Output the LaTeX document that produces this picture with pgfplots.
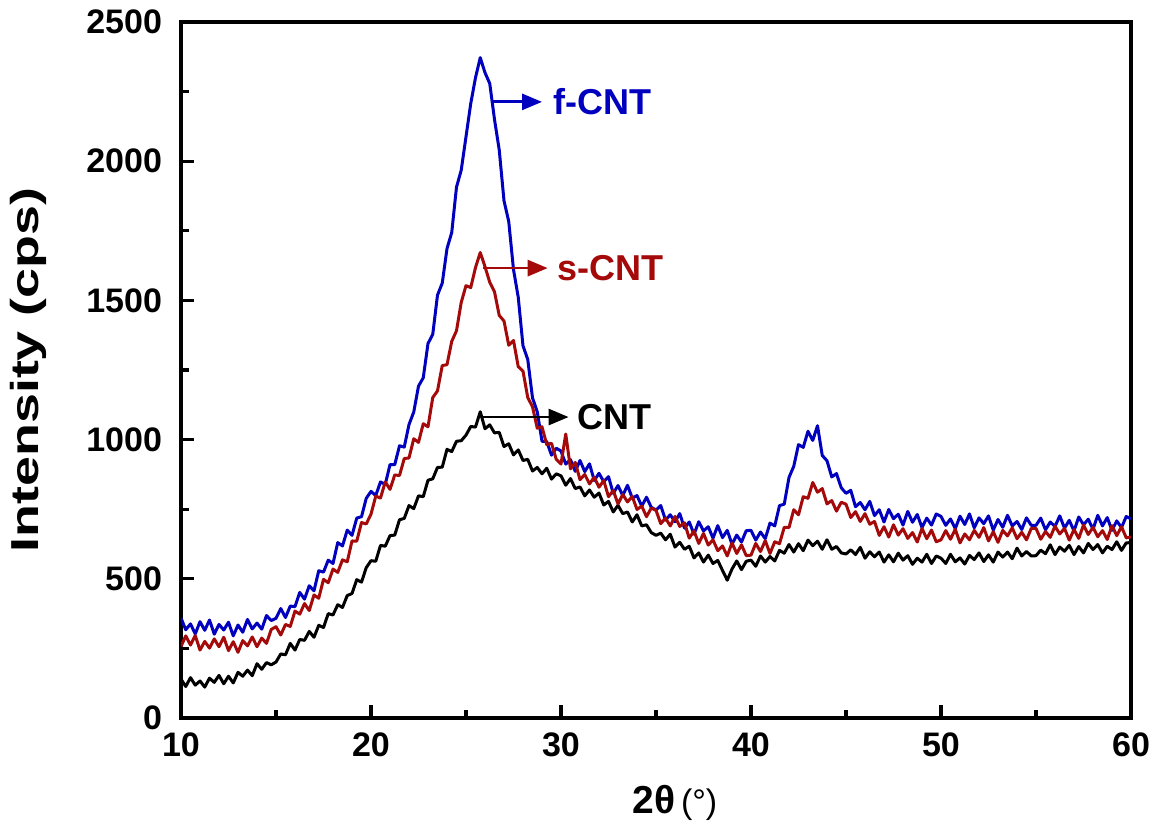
\documentclass[border=0pt]{standalone}
\usepackage{fontspec}
\setmainfont{Liberation Sans}
\usepackage{graphicx}
\usepackage{pgfplots}
\usepackage{pgfplotstable}
\pgfplotsset{compat=1.18}
\usetikzlibrary{arrows.meta}
\definecolor{cntblue}{RGB}{0,0,190}
\definecolor{cntred}{RGB}{165,10,10}

\pgfplotstableread{
x K R B
10.00 140 257 359
10.25 113 295 317
10.50 145 262 338
10.75 118 296 302
11.00 133 244 346
11.25 111 275 315
11.50 143 251 352
11.75 128 284 301
12.00 153 256 336
12.25 123 290 316
12.50 150 242 344
12.75 126 274 295
13.00 164 236 334
13.25 150 278 308
13.50 172 259 354
13.75 152 291 320
14.00 195 256 341
14.25 175 287 319
14.50 199 268 368
14.75 191 318 350
15.00 201 328 358
15.25 230 298 393
15.50 227 336 361
15.75 268 329 402
16.00 244 384 400
16.25 282 373 451
16.50 279 411 427
16.75 311 386 475
17.00 290 442 457
17.25 333 430 529
17.50 325 498 524
17.75 375 486 567
18.00 370 535 555
18.25 407 523 630
18.50 397 568 618
18.75 440 561 675
19.00 447 636 656
19.25 497 635 718
19.50 488 702 723
19.75 540 697 789
20.00 565 732 814
20.25 563 797 799
20.50 620 790 848
20.75 617 848 839
21.00 655 821 910
21.25 657 873 910
21.50 712 871 978
21.75 717 932 973
22.00 763 934 1054
22.25 752 1003 1099
22.50 798 990 1192
22.75 795 1057 1222
23.00 854 1046 1345
23.25 859 1151 1378
23.50 900 1175 1519
23.75 901 1266 1562
24.00 965 1269 1686
24.25 957 1353 1744
24.50 994 1391 1907
24.75 996 1493 1968
25.00 1016 1553 2088
25.25 1047 1546 2207
25.50 1045 1618 2300
25.75 1100 1672 2372
26.00 1039 1621 2318
26.25 1053 1565 2279
26.50 1024 1531 2150
26.75 1026 1446 2040
27.00 975 1426 1858
27.25 985 1339 1783
27.50 945 1356 1611
27.75 963 1262 1511
28.00 925 1246 1337
28.25 929 1151 1288
28.50 887 1118 1150
28.75 900 1041 1100
29.00 877 1046 994
29.25 897 982 993
29.50 858 987 944
29.75 877 929 969
30.00 870 912 959
30.25 836 1020 912
30.50 860 895 928
30.75 824 918 886
31.00 830 856 925
31.25 798 875 885
31.50 819 841 913
31.75 793 865 853
32.00 808 829 879
32.25 765 853 849
32.50 778 795 867
32.75 740 817 807
33.00 764 769 835
33.25 734 803 799
33.50 740 776 836
33.75 704 796 790
34.00 730 749 799
34.25 690 761 761
34.50 694 723 793
34.75 666 754 757
35.00 656 746 747
35.25 664 698 763
35.50 640 718 711
35.75 660 690 730
36.00 614 724 705
36.25 631 688 734
36.50 606 701 682
36.75 617 646 704
37.00 575 672 660
37.25 593 627 705
37.50 560 663 672
37.75 585 621 687
38.00 555 640 646
38.25 566 601 691
38.50 530 618 648
38.75 495 582 674
39.00 535 629 624
39.25 564 591 657
39.50 533 622 632
39.75 563 583 673
40.00 567 585 674
40.25 545 627 639
40.50 582 598 668
40.75 560 637 644
41.00 580 591 700
41.25 564 633 690
41.50 602 626 763
41.75 592 685 768
42.00 623 684 864
42.25 596 748 904
42.50 626 730 982
42.75 601 795 972
43.00 639 789 1030
43.25 619 846 997
43.50 635 811 1050
43.75 606 824 943
44.00 640 769 924
44.25 606 781 866
44.50 616 743 878
44.75 593 775 827
45.00 589 768 807
45.25 604 720 818
45.50 587 741 759
45.75 613 706 774
46.00 574 734 748
46.25 597 696 778
46.50 579 706 727
46.75 596 656 748
47.00 560 687 704
47.25 586 650 749
47.50 561 694 716
47.75 592 657 732
48.00 567 680 693
48.25 583 645 742
48.50 552 666 703
48.75 574 632 731
49.00 560 681 684
49.25 588 644 718
49.50 555 675 693
49.75 582 633 733
50.00 574 640 724
50.25 555 673 692
50.50 588 642 715
50.75 561 678 680
51.00 575 629 725
51.25 553 661 695
51.50 584 640 733
51.75 569 674 683
52.00 593 649 719
52.25 562 684 698
52.50 586 636 726
52.75 560 669 675
53.00 596 631 713
53.25 578 674 685
53.50 596 654 728
53.75 572 683 690
54.00 610 644 706
54.25 582 667 677
54.50 598 640 719
54.75 582 681 692
55.00 583 681 692
55.25 603 642 718
55.50 590 670 676
55.75 622 649 704
56.00 587 689 688
56.25 614 661 726
56.50 599 681 682
56.75 620 639 710
57.00 587 677 672
57.25 616 645 722
57.50 593 693 694
57.75 627 659 714
58.00 605 685 678
58.25 623 651 728
58.50 593 673 690
58.75 617 641 720
59.00 605 691 674
59.25 633 655 708
59.50 602 687 684
59.75 629 647 724
60.00 630 650 715
}\xrd

\begin{document}
\begin{tikzpicture}
\begin{axis}[
  scale only axis, width=475pt, height=348pt,
  xmin=10, xmax=60, ymin=0, ymax=2500,
  xtick={10,20,...,60}, ytick={0,500,...,2500},
  minor x tick num=1, minor y tick num=1,
  tick pos=left, tick align=inside,
  major tick length=6.5pt, minor tick length=4pt,
  axis line style={line width=2pt},
  every tick/.append style={black, line width=1.6pt},
  /pgf/number format/assume math mode=true,
  /pgf/number format/1000 sep={},
  ticklabel style={font=\fontsize{17}{20}\selectfont\bfseries},
  xticklabel style={yshift=-4pt},
  yticklabel style={xshift=-6pt},
  xlabel={{\fontsize{19.5}{22}\selectfont\bfseries 2θ} {\fontsize{17}{20}\selectfont (°)}},
  ylabel={\scalebox{1.38}[1]{\fontsize{19.5}{22}\selectfont\bfseries Intensity (cps)}},
  xlabel style={at={(axis description cs:0.52,-0.122)}, anchor=center},
  ylabel style={at={(axis description cs:-0.161,0.5)}, anchor=center},
  clip mode=individual,
]
\addplot[black, line width=1.5pt, line join=round] table[x=x, y=K] {\xrd};
\addplot[cntblue, line width=1.5pt, line join=round] table[x=x, y=B] {\xrd};
\addplot[cntred, line width=1.5pt, line join=round] table[x=x, y=R] {\xrd};

\draw[cntblue, line width=1.4pt, -{Triangle[length=10pt,width=8pt]}] (axis cs:26.4,2213) -- (axis cs:29.0,2213);
\node[anchor=west, text=cntblue, font=\fontsize{18}{20}\selectfont\bfseries] at (axis cs:29.25,2213) {f-CNT};
\draw[cntred, line width=1.4pt, -{Triangle[length=10pt,width=8pt]}] (axis cs:25.9,1616) -- (axis cs:29.3,1616);
\node[anchor=west, text=cntred, font=\fontsize{18}{20}\selectfont\bfseries] at (axis cs:29.45,1616) {s-CNT};
\draw[black, line width=1.4pt, -{Triangle[length=10pt,width=8pt]}] (axis cs:25.9,1081) -- (axis cs:30.4,1081);
\node[anchor=west, text=black, font=\fontsize{18}{20}\selectfont\bfseries] at (axis cs:30.5,1081) {CNT};
\end{axis}
\path ([shift={(-90.5pt,-54pt)}]current axis.south west) rectangle ([shift={(15.5pt,11pt)}]current axis.north east);
\end{tikzpicture}
\end{document}
